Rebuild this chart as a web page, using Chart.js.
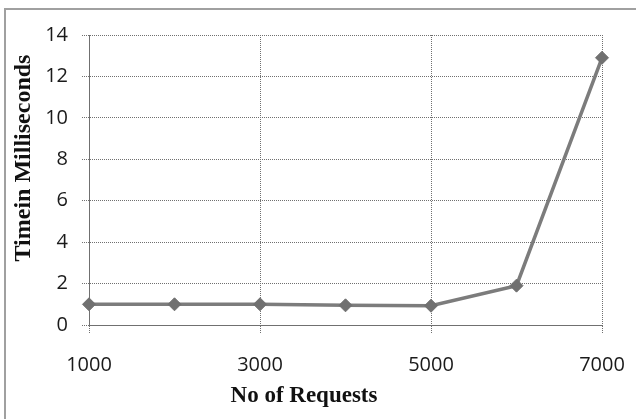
<!DOCTYPE html>
<html>
<head>
<meta charset="utf-8">
<script src="https://cdn.jsdelivr.net/npm/chart.js@4/dist/chart.umd.min.js"></script>
<style>
  html, body { margin: 0; padding: 0; background: #fff; }
  #wrap { position: relative; width: 636px; height: 419px; overflow: hidden; }
  #frame { position: absolute; left: 4px; top: 8px; width: 700px; height: 500px;
           border-top: 2px solid #a0a0a0; border-left: 2px solid #a0a0a0; }
  canvas { position: absolute; left: 0; top: 0; }
</style>
</head>
<body>
<div id="wrap">
  <div id="frame"></div>
  <canvas id="c" width="636" height="419"></canvas>
</div>
<script>
// Response time measured for each request batch size
const requests = [1000, 2000, 3000, 4000, 5000, 6000, 7000];
const timeMs = [1.0, 1.0, 1.0, 0.95, 0.93, 1.9, 12.9];
const xTickValues = [1000, 3000, 5000, 7000];
const yTickValues = [0, 2, 4, 6, 8, 10, 12, 14];
const xTitle = 'No of Requests';
const yTitle = 'Timein Milliseconds';

const gridColor = '#707070';
const tickFont = { family: '"Open Sans", "DejaVu Sans", sans-serif', size: 20 };

// Axis titles sit off-centre relative to the plot, so draw them directly
const axisTitles = {
  id: 'axisTitles',
  afterDraw(chart) {
    const { ctx, chartArea } = chart;
    ctx.save();
    ctx.fillStyle = '#111';
    ctx.textAlign = 'center';
    ctx.textBaseline = 'middle';
    ctx.font = 'bold 23px "Liberation Serif", "Times New Roman", serif';
    ctx.fillText(xTitle, chartArea.left + 215, chartArea.bottom + 71);
    ctx.translate(chartArea.left - 65, chartArea.top + 123);
    ctx.rotate(-Math.PI / 2);
    ctx.font = 'bold 24px "Liberation Serif", "Times New Roman", serif';
    ctx.fillText(yTitle, 0, 0);
    ctx.restore();
  }
};

new Chart(document.getElementById('c'), {
  type: 'line',
  data: {
    datasets: [{
      data: requests.map((r, i) => ({ x: r, y: timeMs[i] })),
      borderColor: '#7c7c7c',
      borderWidth: 3.5,
      pointStyle: 'rectRot',
      pointRadius: 6.5,
      pointBackgroundColor: '#707070',
      pointBorderColor: '#707070',
      pointBorderWidth: 1,
      tension: 0,
      clip: false
    }]
  },
  options: {
    responsive: false,
    animation: false,
    layout: { padding: { left: 0, top: 35, right: 34, bottom: 0 } },
    plugins: { legend: { display: false }, tooltip: { enabled: false } },
    scales: {
      x: {
        type: 'linear',
        min: 1000,
        max: 7000,
        afterBuildTicks: (s) => { s.ticks = xTickValues.map(v => ({ value: v })); },
        afterFit: (s) => { s.height = 94; s.paddingLeft = 0; s.paddingRight = 0; },
        ticks: { font: tickFont, color: '#1a1a1a', padding: 20, maxRotation: 0,
                 callback: (v) => String(v) },
        grid: { color: gridColor, lineWidth: 1, borderDash: [1, 1], tickLength: 8,
                tickBorderDash: [1, 1], drawOnChartArea: true },
        border: { display: true, color: gridColor, dash: [1, 1] }
      },
      y: {
        min: 0,
        max: 14,
        afterBuildTicks: (s) => { s.ticks = yTickValues.map(v => ({ value: v })); },
        afterFit: (s) => { s.width = 89; },
        ticks: { font: tickFont, color: '#1a1a1a', padding: 14 },
        grid: { color: gridColor, lineWidth: 1, borderDash: [1, 1], tickLength: 7,
                tickBorderDash: [1, 1] },
        border: { display: true, color: gridColor, dash: [1, 1] }
      }
    }
  },
  plugins: [axisTitles]
});
</script>
</body>
</html>
